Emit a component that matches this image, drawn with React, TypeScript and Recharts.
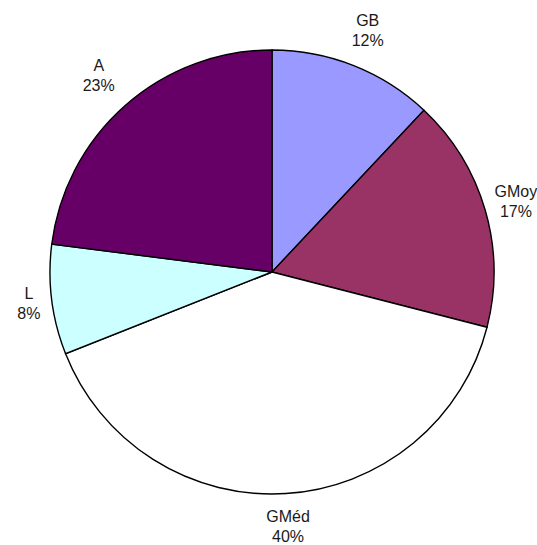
import React from "react";
import { PieChart, Pie, Cell } from "recharts";

// Slice categories and their shares (percent), clockwise from 12 o'clock
const categories = ["GB", "GMoy", "GMéd", "L", "A"];
const shares = [12, 17, 40, 8, 23];
const sliceColors = ["#9999FF", "#993366", "#FFFFFF", "#CCFFFF", "#660066"];

// Distance from the pie centre to each label's centre, in px
const labelRadius: Record<string, number> = {
  GB: 260,
  GMoy: 254,
  "GMéd": 255,
  L: 245,
  A: 262,
};

const data = categories.map((name, i) => ({ name, value: shares[i] }));

const RAD = Math.PI / 180;
const FONT = "'Liberation Sans', Arial, sans-serif";

// Two-line outside label: category name over percentage,
// centred on a point along the slice's mid angle.
const renderLabel = (props: any) => {
  const { cx, cy, midAngle, name, value } = props;
  const r = labelRadius[name] ?? 255;
  const bx = cx + r * Math.cos(-midAngle * RAD);
  const by = cy + r * Math.sin(-midAngle * RAD);
  return (
    <text
      x={bx}
      y={by}
      textAnchor="middle"
      fontFamily={FONT}
      fontSize={16}
      fill="#1a1a1a"
    >
      <tspan x={bx} y={by - 4}>{name}</tspan>
      <tspan x={bx} y={by + 16}>{`${value}%`}</tspan>
    </text>
  );
};

export default function App() {
  return (
    <div style={{ position: "absolute", left: 0, top: 0, width: 537, height: 545, background: "#fff" }}>
      <PieChart width={537} height={545}>
        <Pie
          data={data}
          dataKey="value"
          nameKey="name"
          cx={267}
          cy={267}
          outerRadius={222}
          startAngle={90}
          endAngle={-270}
          stroke="#000"
          strokeWidth={1.4}
          label={renderLabel}
          labelLine={false}
          isAnimationActive={false}
        >
          {data.map((d, i) => (
            <Cell key={d.name} fill={sliceColors[i]} />
          ))}
        </Pie>
      </PieChart>
    </div>
  );
}
